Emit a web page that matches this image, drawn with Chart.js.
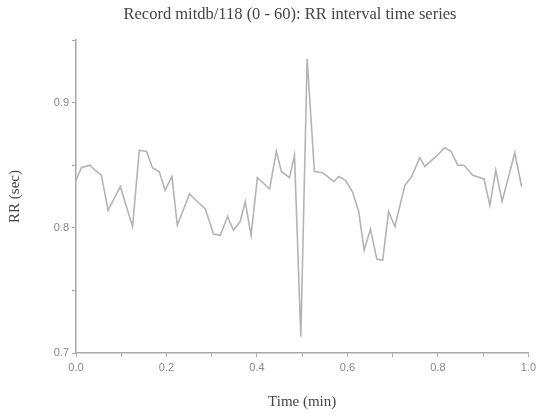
<!DOCTYPE html>
<html>
<head>
<meta charset="utf-8">
<script src="https://cdn.jsdelivr.net/npm/chart.js@4/dist/chart.umd.min.js"></script>
<style>
html,body{margin:0;padding:0;background:#fff;}
#wrap{width:540px;height:414px;position:relative;}
</style>
</head>
<body>
<div id="wrap"><canvas id="c" width="540" height="414"></canvas></div>
<script>
// Time (min) and RR interval (sec)
const timeMin = [0.000,0.012,0.031,0.042,0.056,0.071,0.098,0.125,0.140,0.156,0.169,0.184,0.197,0.212,0.224,0.251,0.268,0.286,0.304,0.319,0.335,0.348,0.363,0.374,0.387,0.401,0.428,0.443,0.454,0.472,0.483,0.497,0.511,0.527,0.545,0.570,0.581,0.596,0.611,0.625,0.637,0.651,0.665,0.678,0.691,0.705,0.727,0.742,0.760,0.771,0.796,0.815,0.829,0.844,0.858,0.877,0.902,0.915,0.928,0.942,0.970,0.985];
const rrSec   = [0.838,0.848,0.850,0.846,0.842,0.814,0.833,0.801,0.862,0.861,0.848,0.845,0.830,0.841,0.802,0.827,0.821,0.815,0.795,0.794,0.809,0.798,0.805,0.821,0.794,0.840,0.831,0.861,0.845,0.840,0.858,0.713,0.935,0.845,0.844,0.837,0.841,0.838,0.829,0.813,0.782,0.799,0.775,0.774,0.813,0.801,0.834,0.841,0.856,0.849,0.857,0.864,0.861,0.850,0.850,0.842,0.839,0.818,0.846,0.821,0.860,0.833];
const chartTitle = "Record mitdb/118 (0 - 60): RR interval time series";
const xTitle = "Time (min)";
const yTitle = "RR (sec)";

const points = timeMin.map((t,i)=>({x:t,y:rrSec[i]}));

const titlePlugin = {
  id:'topTitle',
  afterDraw(chart){
    const ctx = chart.ctx;
    ctx.save();
    ctx.font = '16.5px "Liberation Serif", "DejaVu Serif", serif';
    ctx.fillStyle = '#444';
    ctx.textAlign = 'center';
    ctx.textBaseline = 'middle';
    ctx.fillText(chartTitle, 290, 15);
    ctx.restore();
  }
};

const axisColor = '#a8a8a8';
new Chart(document.getElementById('c'), {
  type:'line',
  data:{datasets:[{data:points,borderColor:'#b4b4b4',borderWidth:1.6,pointRadius:0,tension:0,fill:false}]},
  options:{
    responsive:false,
    animation:false,
    plugins:{legend:{display:false},tooltip:{enabled:false}},
    layout:{padding:{left:0,right:7,top:40,bottom:0}},
    scales:{
      x:{
        type:'linear',min:0,max:1,
        afterFit(s){ s.height = 61; },
        ticks:{stepSize:0.1,autoSkip:false,maxRotation:0,padding:4,color:'#888',
          font:{family:'"Liberation Sans", Arial, sans-serif',size:11},
          callback(v){ const r=Math.round(v*10); return (Math.abs(v*10-r)<1e-6 && r%2===0) ? (r/10).toFixed(1) : ''; }},
        grid:{drawOnChartArea:false,color:axisColor,tickLength:4,lineWidth:1},
        border:{display:true,color:axisColor,width:1.5},
        title:{display:true,text:xTitle,color:'#444',padding:{top:4,bottom:3},
          font:{family:'"Liberation Serif", serif',size:15}}
      },
      y:{
        type:'linear',min:0.7,max:0.95,
        afterFit(s){ s.width = 76; },
        ticks:{stepSize:0.05,autoSkip:false,padding:3,color:'#888',
          font:{family:'"Liberation Sans", Arial, sans-serif',size:11},
          callback(v){ const r=v*10; return Math.abs(r-Math.round(r))<1e-6 ? v.toFixed(1) : ''; }},
        grid:{drawOnChartArea:false,color:axisColor,tickLength:4,lineWidth:1},
        border:{display:true,color:axisColor,width:1.5},
        title:{display:true,text:yTitle,color:'#444',padding:{top:6,bottom:4},
          font:{family:'"Liberation Serif", serif',size:15}}
      }
    }
  },
  plugins:[titlePlugin]
});
</script>
</body>
</html>
